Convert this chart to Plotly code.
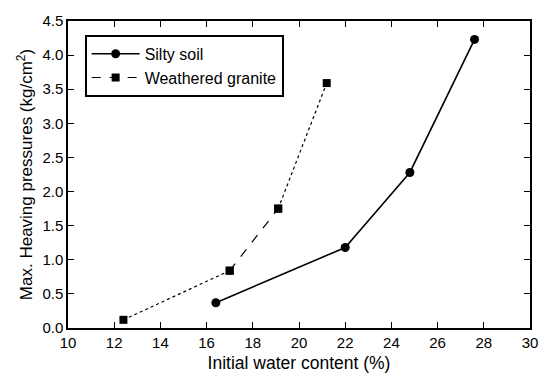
import plotly.graph_objects as go

# Initial water content (%) and maximum heaving pressure (kg/cm2)
silty_x = [16.4, 22.0, 24.8, 27.6]
silty_y = [0.37, 1.18, 2.28, 4.23]

granite_x = [12.4, 17.0, 19.1, 21.2]
granite_y = [0.12, 0.84, 1.75, 3.59]

x_ticks = list(range(10, 31, 2))
y_ticks = [i * 0.5 for i in range(10)]

FONT = "Liberation Sans, Arial, sans-serif"

fig = go.Figure()

fig.add_trace(go.Scatter(
    x=silty_x, y=silty_y, mode="lines+markers", name="Silty soil",
    line=dict(color="black", width=1.6),
    marker=dict(symbol="circle", size=9, color="black"),
))

# Weathered granite: dashed middle segment (legend entry), dotted outer segments
fig.add_trace(go.Scatter(
    x=granite_x[1:3], y=granite_y[1:3], mode="lines+markers", name="Weathered granite",
    line=dict(color="black", width=1.2, dash="dash"),
    marker=dict(symbol="square", size=8, color="black"),
))
for a, b in [(0, 2), (2, 4)]:
    fig.add_trace(go.Scatter(
        x=granite_x[a:b], y=granite_y[a:b], mode="lines+markers", showlegend=False,
        line=dict(color="black", width=1.2, dash="dot"),
        marker=dict(symbol="square", size=8, color="black"),
    ))

axis_common = dict(
    showline=True, linecolor="black", linewidth=1.5, mirror="ticks",
    ticks="inside", ticklen=6, tickwidth=1.2, tickcolor="black",
    showgrid=False, zeroline=False,
    tickfont=dict(family=FONT, size=15, color="black"),
)

fig.update_layout(
    width=550, height=382,
    margin=dict(l=68, r=12, t=13, b=53),
    paper_bgcolor="white", plot_bgcolor="white",
    xaxis=dict(range=[10, 30], tickvals=x_ticks,
               title=dict(text="Initial water content (%)", standoff=7,
                          font=dict(family=FONT, size=17.5, color="black")),
               **axis_common),
    yaxis=dict(range=[0, 4.5], tickvals=y_ticks, tickformat=".1f",
               title=dict(text="Max. Heaving pressures (kg/cm<sup>2</sup>)", standoff=5,
                          font=dict(family=FONT, size=17, color="black")),
               **axis_common),
    legend=dict(x=0.036, y=0.955, xanchor="left", yanchor="top",
                bgcolor="white", bordercolor="black", borderwidth=2,
                font=dict(family=FONT, size=16, color="black"),
                itemwidth=48, tracegroupgap=0),
    showlegend=True,
)

fig.write_html("out.html")
